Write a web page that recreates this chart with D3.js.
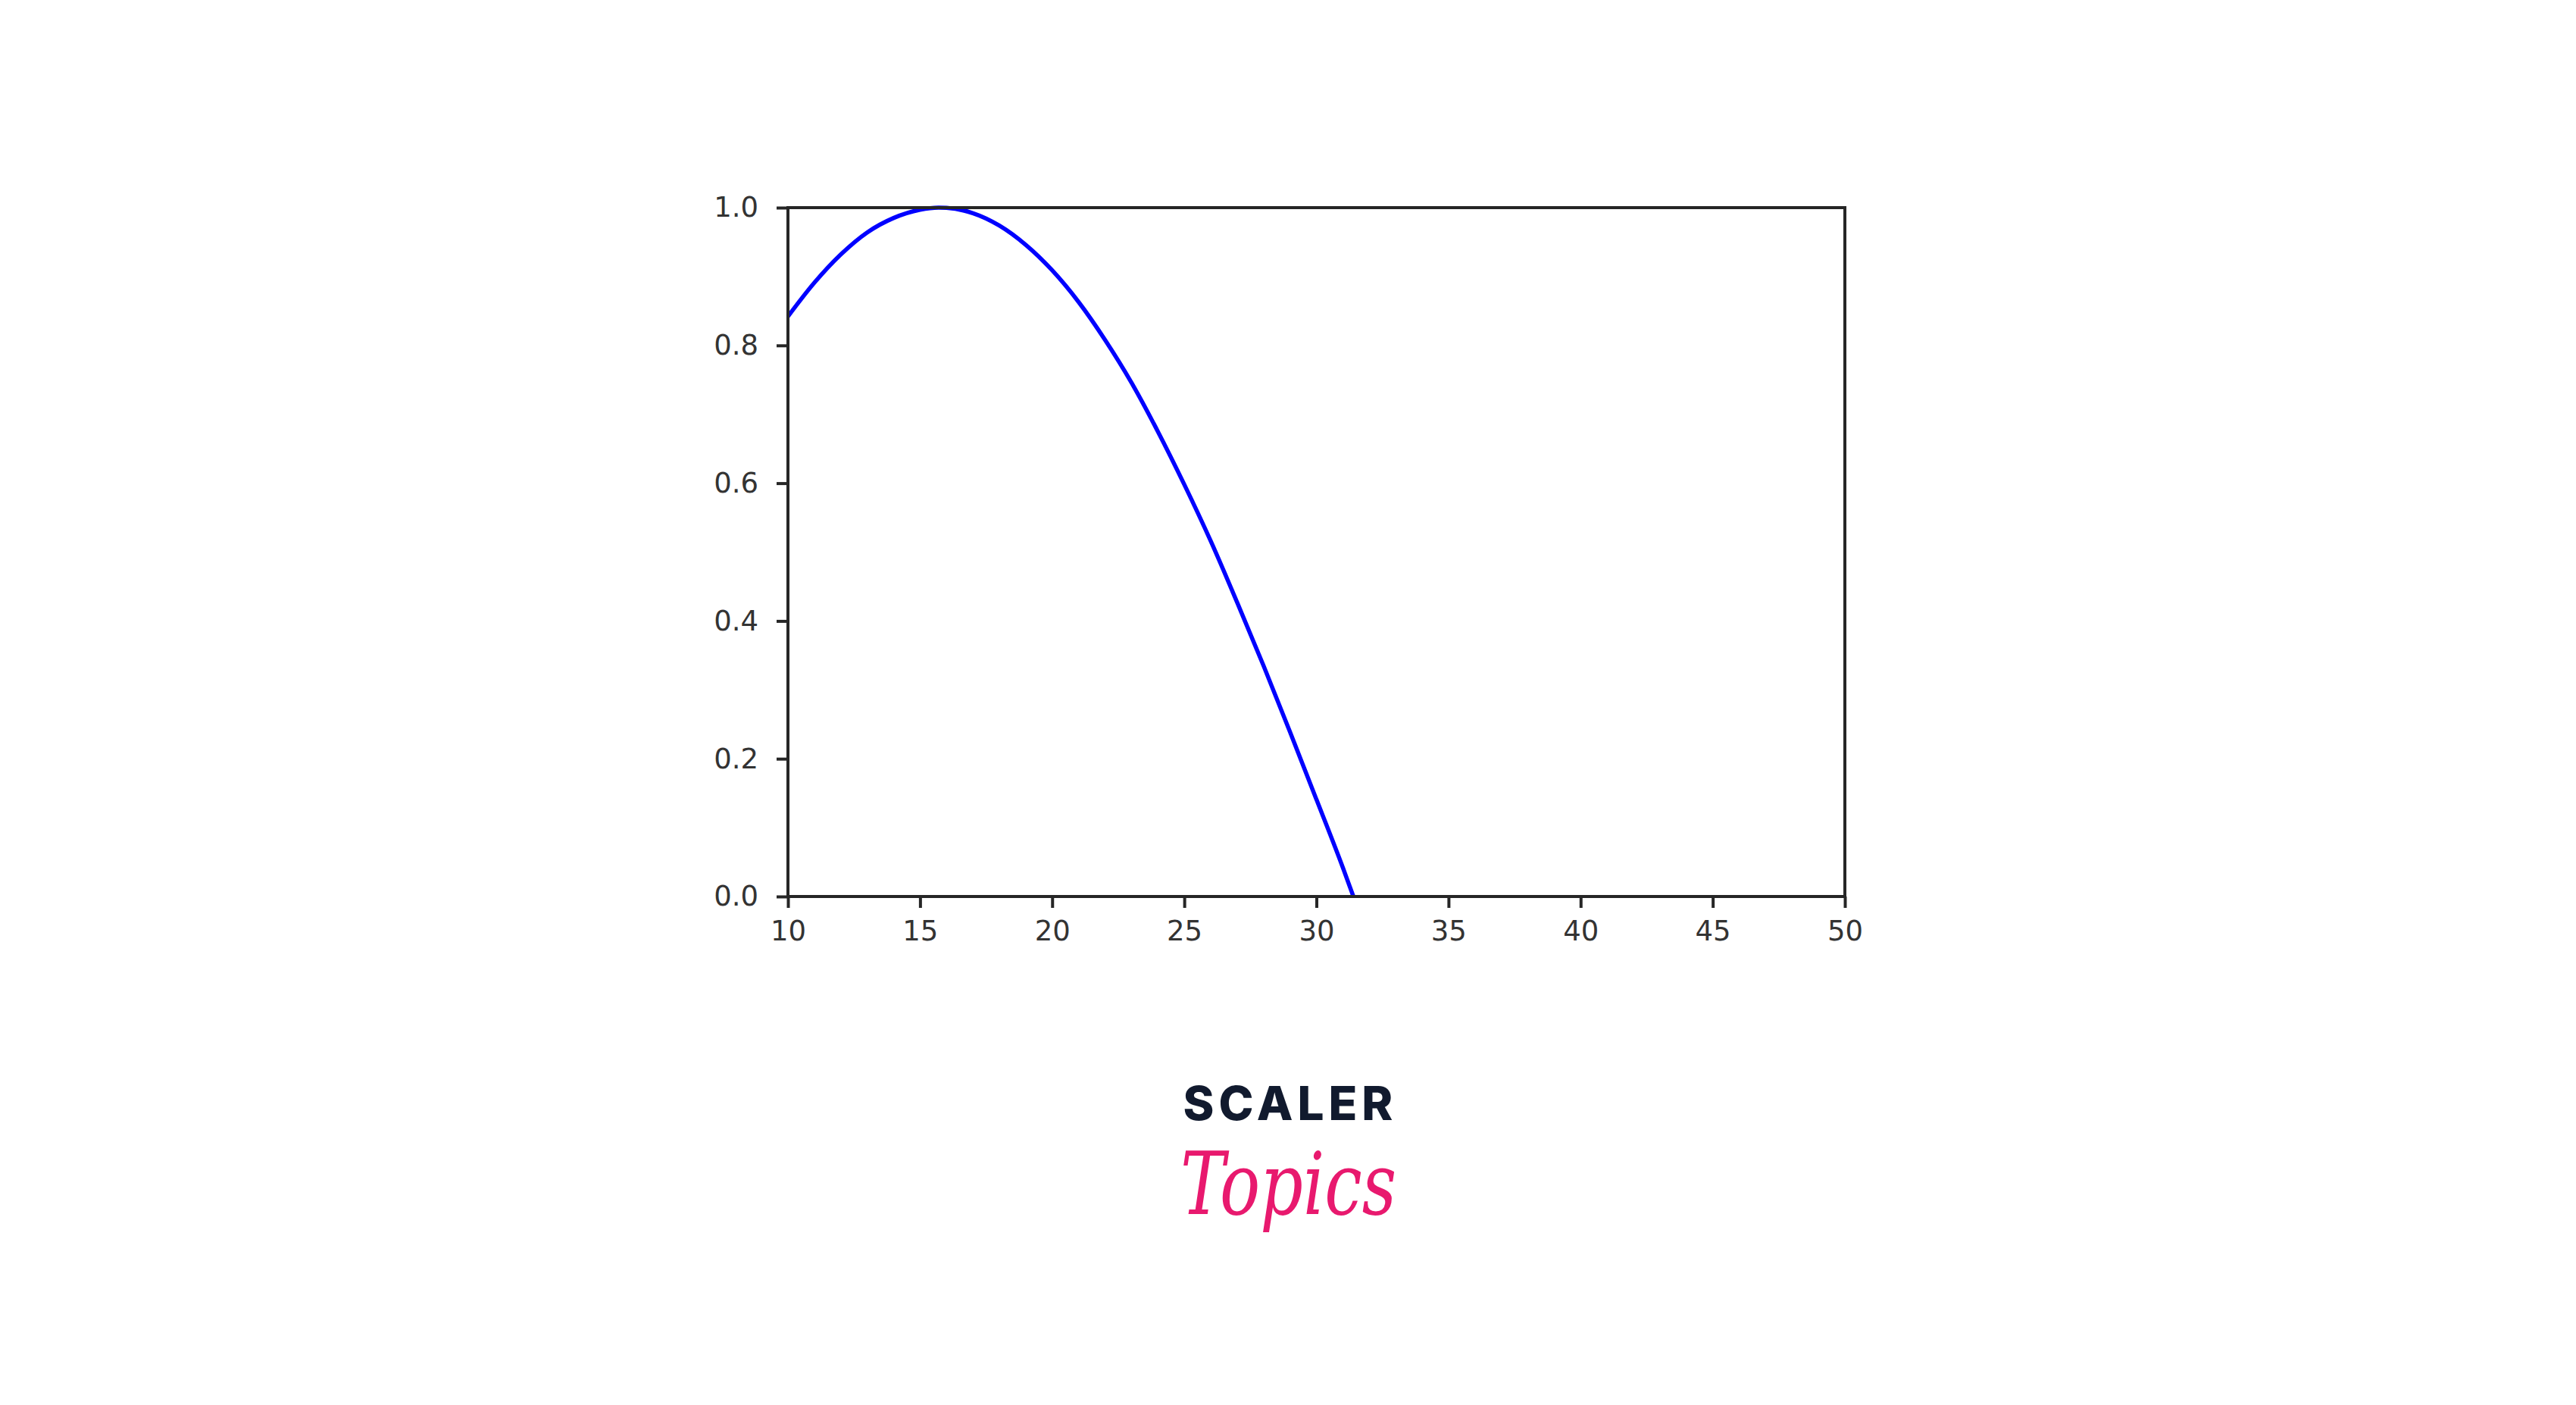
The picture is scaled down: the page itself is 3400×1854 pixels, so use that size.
<!DOCTYPE html>
<html>
<head>
<meta charset="utf-8">
<script src="https://cdn.jsdelivr.net/npm/d3@7"></script>
<style>
  html, body { margin: 0; padding: 0; background: #ffffff; }
  svg { display: block; }
</style>
</head>
<body>
<script>
// ---- data ----
const xValues = [10, 11, 12, 13, 14, 15, 15.7, 16, 17, 18, 19, 20, 21, 22, 23, 24, 25, 26, 27, 28, 29, 30, 31, 31.4];
const yValues = [0.842, 0.891, 0.932, 0.964, 0.985, 0.997, 1.0, 0.9996, 0.992, 0.974, 0.946, 0.909, 0.863, 0.808, 0.746, 0.675, 0.598, 0.516, 0.427, 0.335, 0.239, 0.141, 0.042, 0.0];
const xTicks = [10, 15, 20, 25, 30, 35, 40, 45, 50];
const yTicks = [0.0, 0.2, 0.4, 0.6, 0.8, 1.0];
const xDomain = [10, 50];
const yDomain = [0, 1];
const brandTop = "SCALER";
const brandBottom = "Topics";

const W = 3400, H = 1854;
const plot = { left: 1040, right: 2435, top: 274, bottom: 1183 };

const svg = d3.select("body").append("svg")
  .attr("width", W).attr("height", H);
svg.append("rect").attr("width", W).attr("height", H).attr("fill", "#ffffff");

const x = d3.scaleLinear().domain(xDomain).range([plot.left, plot.right]);
const y = d3.scaleLinear().domain(yDomain).range([plot.bottom, plot.top]);

const points = xValues.map((v, i) => [v, yValues[i]]);

// curve
svg.append("path")
  .datum(points)
  .attr("fill", "none")
  .attr("stroke", "#0000ff")
  .attr("stroke-width", 5.5)
  .attr("d", d3.line().x(d => x(d[0])).y(d => y(d[1])).curve(d3.curveMonotoneX));

const axisColor = "#262626";
const fontFamily = "'DejaVu Sans', sans-serif";

// x axis
const gx = svg.append("g")
  .attr("transform", `translate(0,${plot.bottom})`)
  .call(d3.axisBottom(x).tickValues(xTicks).tickFormat(d3.format("d")).tickSize(15).tickSizeOuter(0).tickPadding(17));

// y axis
const gy = svg.append("g")
  .attr("transform", `translate(${plot.left},0)`)
  .call(d3.axisLeft(y).tickValues(yTicks).tickFormat(d3.format(".1f")).tickSize(15).tickSizeOuter(0).tickPadding(24));

[gx, gy].forEach(g => {
  g.select(".domain").remove();
  g.selectAll(".tick line").attr("stroke", axisColor).attr("stroke-width", 4);
  g.selectAll(".tick text")
    .attr("fill", "#333")
    .style("font-family", fontFamily)
    .style("font-size", "37px");
});

// frame (spines)
svg.append("rect")
  .attr("x", plot.left).attr("y", plot.top)
  .attr("width", plot.right - plot.left).attr("height", plot.bottom - plot.top)
  .attr("fill", "none").attr("stroke", axisColor).attr("stroke-width", 4);

// brand logo
svg.append("text")
  .attr("x", 1703).attr("y", 1478)
  .attr("text-anchor", "middle")
  .attr("fill", "#111a2e")
  .style("font-family", "'Inter', 'Noto Sans', sans-serif")
  .style("font-weight", 800)
  .style("font-size", "62px")
  .style("letter-spacing", "6px")
  .text(brandTop);

svg.append("text")
  .attr("x", 1558).attr("y", 1602)
  .attr("textLength", 285)
  .attr("lengthAdjust", "spacingAndGlyphs")
  .attr("fill", "#e8196e")
  .style("font-family", "'DejaVu Serif', serif")
  .style("font-style", "italic")
  .style("font-weight", 400)
  .style("font-size", "114px")
  .text(brandBottom);
</script>
</body>
</html>
